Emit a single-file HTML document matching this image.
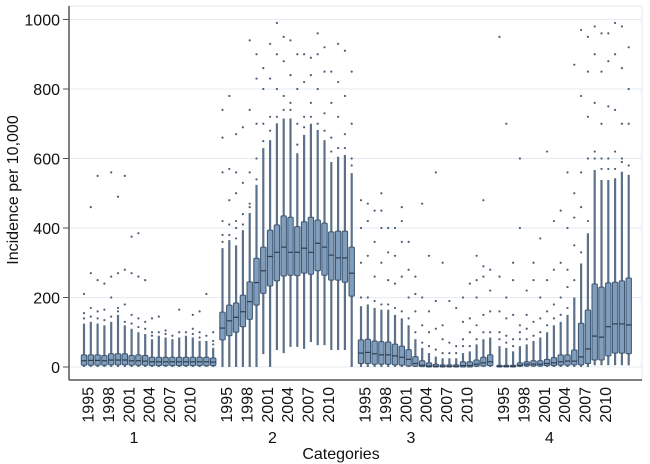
<!DOCTYPE html>
<html><head><meta charset="utf-8"><style>
html,body{margin:0;padding:0;background:#fff;}
svg{display:block;font-family:"Liberation Sans",sans-serif;}
</style></head><body>
<svg id="chart" width="650" height="464" viewBox="0 0 650 464" xmlns="http://www.w3.org/2000/svg">
<g id="grid"></g>
<g id="marks"></g>
<g id="axes"></g>
</svg>
<script>
const groupLabels = ["1","2","3","4"];
const years = [1995,1996,1997,1998,1999,2000,2001,2002,2003,2004,2005,2006,2007,2008,2009,2010,2011,2012,2013,2014];
const yTicks = [0,200,400,600,800,1000];
const lowWhisker = [
 [0,0,0,0,0,0,0,0,0,0,0,0,0,0,0,0,0,0,0,0],
 [0,0,0,0,0,0,37,0,49,40,58,58,52,72,63,63,49,49,49,0],
 [0,0,0,0,0,0,0,0,0,0,0,0,0,0,0,0,0,0,0,0],
 [0,0,0,0,0,0,0,0,0,0,0,0,0,0,5,5,5,5,5,5]];
const q1 = [
 [5,5,5,5,6,6,6,5,5,5,4,4,4,4,4,4,4,4,4,4],
 [78,90,100,116,137,178,212,233,248,262,264,263,270,267,277,264,250,250,244,204],
 [10,10,8,8,8,6,5,3,2,1,0,0,0,0,0,0,0,2,3,4],
 [0,0,0,2,3,3,3,4,4,5,5,6,6,10,20,20,32,40,40,38]];
const median = [
 [18,19,19,18,20,20,20,18,18,17,15,15,15,15,15,15,15,15,15,14],
 [112,133,143,159,188,243,277,318,330,345,330,330,342,330,356,345,322,314,314,270],
 [40,42,38,35,35,32,28,22,10,5,3,2,2,2,2,4,4,8,12,15],
 [2,2,2,5,8,8,8,10,12,15,17,17,29,52,89,86,116,124,124,121]];
const q3 = [
 [35,35,35,33,38,38,38,33,35,33,28,28,28,28,28,28,28,28,28,26],
 [158,178,184,207,245,313,345,394,409,435,431,404,418,431,423,414,389,391,391,345],
 [78,80,75,73,72,66,60,50,30,18,12,8,6,6,6,15,15,20,28,35],
 [5,5,5,12,15,18,18,22,27,35,35,49,126,164,239,230,242,244,248,256]];
const highWhisker = [
 [125,130,125,120,130,150,120,110,100,95,80,90,85,80,85,90,85,75,75,55],
 [342,365,350,394,443,524,630,653,701,715,715,615,668,700,682,653,590,605,610,558],
 [175,180,170,165,165,150,140,120,80,55,40,30,25,25,25,40,45,65,80,85],
 [60,55,45,60,65,75,85,100,120,130,150,200,298,385,567,538,538,543,562,553]];
const outliers = [
 [[140,155,210],[145,170,270,460],[140,160,250,550],[135,165,240],[145,200,260,560],[160,170,270,490],[130,180,280,550],[125,150,270,375],[115,140,260,385],[110,130,250],[90,100,140],[100,145],[95,105],[90],[100,165],[100],[95,110,150],[85,100,160],[90,210],[65,75,100]],
 [[360,380,420,560,660,740],[380,410,480,570,780],[370,400,420,500,560,670],[410,440,530,690],[460,470,560,740,940],[540,600,700,830,900],[650,700,800,860],[680,720,830,930],[720,800,900,990],[740,780,880,950],[740,760,840,940],[640,700,800,900],[690,720,820,900],[720,760,840,890],[700,800,900,960],[680,730,850,920],[620,660,760,850],[630,720,820,930],[630,670,780,910],[580,600,700,850]],
 [[200,300,400,480],[200,320,420,470],[190,260,360,450],[180,300,400,450,500],[180,250,330,400],[170,240,320,400],[160,260,360,420,460],[140,200,280,360],[100,160,210,260],[70,120,200,470],[60,100,160,320],[50,110,190,560],[40,80,120,300],[40,70,190],[40,60,170],[60,80,130,200],[60,100,140,240],[80,120,200,250,320],[100,150,260,290,480],[100,160,220,280]],
 [[80,100,160,260,950],[70,90,140,200,700],[60,80,150,250,300],[80,100,120,400,600],[80,110,150,220],[90,130,250,300],[100,140,200,370],[120,160,250,620],[140,180,280,420],[150,200,300,450],[170,230,280,400,560],[250,350,430,500,870],[330,460,560,780,970],[420,600,720,850,950],[600,620,760,900,980],[570,600,700,850,960],[570,600,750,880,960],[570,620,740,900,990],[590,600,700,860,980],[580,700,800,920]]];

const NS="http://www.w3.org/2000/svg";
const X0=69, X1=642, YTOP=6, YBOT=380;
function yScale(v){return 367 - v*0.3475;}
function xScale(g,i){return 84 + g*138.5 + i*6.8;}
function mk(tag,attrs,parent){const e=document.createElementNS(NS,tag);for(const k in attrs)e.setAttribute(k,attrs[k]);parent.appendChild(e);return e;}
const grid=document.getElementById('grid'), marks=document.getElementById('marks'), axes=document.getElementById('axes');

mk('rect',{x:X0,y:YTOP,width:X1-X0,height:YBOT-YTOP,fill:'#fff',stroke:'#e3e8ec','stroke-width':1},grid);
yTicks.forEach(t=>{
  const y=yScale(t);
  const l=mk('line',{x1:X0,x2:X1,y1:y,y2:y,stroke:'#e6ecf1','stroke-width':1},grid);
  
  
  const tk=mk('line',{x1:X0-6,x2:X0,y1:y,y2:y,stroke:'#555','stroke-width':1},axes);
  
  
  const tx=mk('text',{x:X0-9,y:y+6,'text-anchor':'end','font-size':16,fill:'#111'},axes);
  tx.textContent=t;
  
  
});

for(let g=0;g<4;g++){
  for(let i=0;i<years.length;i++){
    const cx=xScale(g,i);
    const bg=mk('g',{},marks);
    
    
    (outliers[g][i]||[]).forEach(v=>{
      mk('circle',{cx:cx,cy:yScale(v),r:1.1,fill:'#4e5f75'},bg);
    });
    mk('line',{x1:cx,x2:cx,y1:yScale(highWhisker[g][i]),y2:yScale(lowWhisker[g][i]),stroke:'#5c7189','stroke-width':2.2},bg);
    const yq3=yScale(q3[g][i]), yq1=yScale(q1[g][i]);
    mk('rect',{x:cx-2.7,y:yq3,width:5.4,height:Math.max(1,yq1-yq3),fill:'#7f9dbd',stroke:'#3c536d','stroke-width':1,rx:1},bg);
    const ym=yScale(median[g][i]);
    mk('line',{x1:cx-2.7,x2:cx+2.7,y1:ym,y2:ym,stroke:'#2c3e52','stroke-width':1.2},bg);
  }
}

mk('line',{x1:X0,x2:X0,y1:YTOP,y2:YBOT,stroke:'#555','stroke-width':1.5},axes);
mk('line',{x1:X0,x2:X1,y1:YBOT,y2:YBOT,stroke:'#555','stroke-width':1.5},axes);

for(let g=0;g<4;g++){
  for(let i=0;i<years.length;i+=3){
    if(i>15)break;
    const cx=xScale(g,i)+9.5;
    const t=mk('text',{x:cx,y:387,'text-anchor':'end','font-size':16,fill:'#111',transform:'rotate(-90 '+cx+' 387)'},axes);
    t.textContent=years[i];
    
    
  }
  const gl=mk('text',{x:xScale(g,0)+50,y:443,'text-anchor':'middle','font-size':16,fill:'#111'},axes);
  gl.textContent=groupLabels[g];
  
  
}
</script>
<svg style="position:absolute;left:0;top:0" width="650" height="464">
<text x="341" y="459" text-anchor="middle" font-size="16" fill="#111" font-family="Liberation Sans, sans-serif">Categories</text>
<text x="0" y="0" transform="translate(18,190) rotate(-90)" text-anchor="middle" font-size="16" fill="#111" font-family="Liberation Sans, sans-serif">Incidence per 10,000</text>
</svg>
</body></html>
